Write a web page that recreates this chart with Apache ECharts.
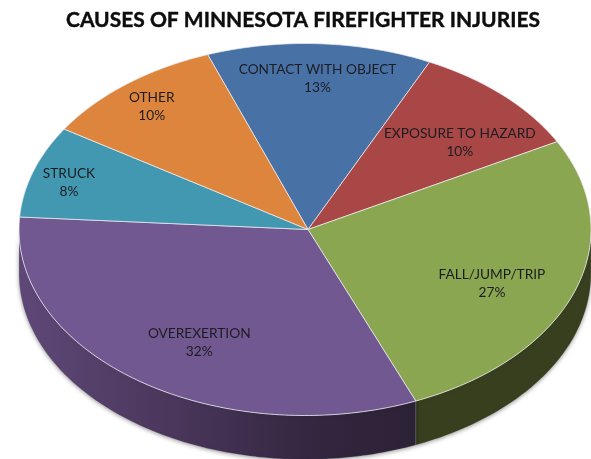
<!DOCTYPE html>
<html>
<head>
<meta charset="utf-8">
<script src="https://cdn.jsdelivr.net/npm/echarts@6/dist/echarts.min.js"></script>
<style>html,body{margin:0;padding:0;background:#fff}#c{width:591px;height:459px}</style>
</head>
<body>
<div id="c"></div>
<script>
const titleText = 'CAUSES OF MINNESOTA FIREFIGHTER INJURIES';
const categories = ['CONTACT WITH OBJECT', 'EXPOSURE TO HAZARD', 'FALL/JUMP/TRIP', 'OVEREXERTION', 'STRUCK', 'OTHER'];
const percents = [12.7, 10, 26.5, 32.4, 8, 10.4];
const faceColors = ['#4872a6', '#a94746', '#8aa650', '#725890', '#4298b0', '#dd853d'];

// Projection of the tilted pie
const START_DEG = 340.1, RIM_X = 305, RIM_Y = 229.5, RX = 286, RY = 186;
const HUB_X = 308, HUB_Y = 229.5, DEPTH = 44;
// Label placement: fraction of radius and angle shift from the slice middle
const labelRadius = [0.82, 0.717, 0.714, 0.705, 0.865, 0.853];
const labelShift = [0.1, 5.2, 4.2, -3.9, -0.8, -0.3];

const total = percents.reduce((a, b) => a + b, 0);
function sliceRange(i) {
  let before = 0;
  for (let k = 0; k < i; k++) before += percents[k];
  return [START_DEG + before / total * 360, START_DEG + (before + percents[i]) / total * 360];
}
function rimPoint(deg, dy) {
  const a = deg * Math.PI / 180;
  return [RIM_X + RX * Math.sin(a), RIM_Y - RY * Math.cos(a) + (dy || 0)];
}
function arc(from, to, dy) {
  const pts = [];
  const n = Math.max(2, Math.ceil(Math.abs(to - from)));
  for (let j = 0; j <= n; j++) pts.push(rimPoint(from + (to - from) * j / n, dy));
  return pts;
}
function norm360(d) { return ((d % 360) + 360) % 360; }

function renderSide(params) {
  const i = params.dataIndex;
  const r = sliceRange(i);
  const lo = Math.max(norm360(r[0]), 90), hi = Math.min(norm360(r[0]) + (r[1] - r[0]), 270);
  if (hi <= lo) return { type: 'group', children: [] };
  const pts = arc(lo, hi, 0).concat(arc(hi, lo, DEPTH));
  const isPurple = categories[i] === 'OVEREXERTION';
  const fill = isPurple
    ? new echarts.graphic.LinearGradient(1, 0, 0, 0, [
        { offset: 0, color: '#2c2236' },
        { offset: 0.25, color: '#33263f' },
        { offset: 0.6, color: '#49365a' },
        { offset: 1, color: '#5f4878' }
      ])
    : '#373f1e';
  return {
    type: 'polygon',
    shape: { points: pts },
    style: { fill, stroke: 'rgba(200,200,200,0.3)', lineWidth: 0.6, shadowBlur: 4, shadowColor: 'rgba(0,0,0,0.4)', shadowOffsetX: 0, shadowOffsetY: 1 }
  };
}

function renderFace(params) {
  const i = params.dataIndex;
  const r = sliceRange(i);
  const pts = [[HUB_X, HUB_Y]].concat(arc(r[0], r[1], 0));
  const mid = (r[0] + r[1]) / 2 + labelShift[i];
  const a = mid * Math.PI / 180;
  const lx = RIM_X + RX * labelRadius[i] * Math.sin(a);
  const ly = RIM_Y - RY * labelRadius[i] * Math.cos(a) + 1;
  return {
    type: 'group',
    children: [
      { type: 'polygon', shape: { points: pts },
        style: { fill: faceColors[i], stroke: 'rgba(235,235,240,0.75)', lineWidth: 1 } },
      { type: 'text', z2: 10,
        style: { x: lx, y: ly, text: categories[i] + '\n' + Math.round(percents[i]) + '%', align: 'center', verticalAlign: 'middle',
          fontFamily: 'Lato', fontSize: 13.7, lineHeight: 18, fill: '#1c1c22' } }
    ]
  };
}

const chart = echarts.init(document.getElementById('c'), null, { renderer: 'canvas' });
chart.setOption({
  animation: false,
  backgroundColor: '#ffffff',
  title: {
    text: titleText, left: 298, top: 5, textAlign: 'center',
    textStyle: { fontFamily: 'Lato', fontWeight: 'bold', fontSize: 21, color: '#0d0d0d', textBorderColor: '#0d0d0d', textBorderWidth: 0.4 }
  },
  series: [
    { type: 'custom', coordinateSystem: 'none', z: 1, silent: true, data: percents, renderItem: renderSide },
    { type: 'custom', coordinateSystem: 'none', z: 2, silent: true, data: percents, renderItem: renderFace }
  ]
});
</script>
</body>
</html>
